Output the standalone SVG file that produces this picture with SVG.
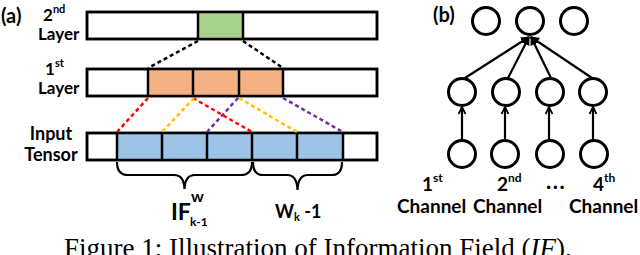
<svg xmlns="http://www.w3.org/2000/svg" width="640" height="255" viewBox="0 0 640 255">
<defs>
<style>
.lbl{font-family:Lato,"Liberation Sans",sans-serif;font-weight:bold;fill:#000}
.box{fill:#fff;stroke:#000;stroke-width:2.5}
.frame{fill:none;stroke:#000;stroke-width:2.5}
.sep{stroke:#000;stroke-width:2.5}
.g{fill:#a9d18e}
.o{fill:#f4b183}
.b{fill:#9dc3e6}
.dash{fill:none;stroke-width:2.5;stroke-dasharray:4 3}
.brace{fill:none;stroke:#000;stroke-width:2.2}
.node{fill:#fff;stroke:#000;stroke-width:3}
.edge{fill:none;stroke:#000;stroke-width:2.2}
</style>
<marker id="ah" viewBox="0 0 10 10" refX="9" refY="5" markerWidth="4" markerHeight="4" orient="auto">
<path d="M0,0 L10,5 L0,10 z" fill="#000"/>
</marker>
<marker id="chev" viewBox="0 0 10 10" refX="9" refY="5" markerWidth="4" markerHeight="4" orient="auto">
<path d="M1,1 L9,5 L1,9" fill="none" stroke="#000" stroke-width="2"/>
</marker>
</defs>

<g id="label-a">
<text class="lbl" x="1" y="23" font-size="20">(a)</text>
<text class="lbl" x="43" y="21" font-size="17">2<tspan font-size="11" dy="-8">nd</tspan></text>
<text class="lbl" x="38" y="40" font-size="17">Layer</text>
<text class="lbl" x="45" y="75" font-size="17">1<tspan font-size="11" dy="-8">st</tspan></text>
<text class="lbl" x="38" y="94" font-size="17">Layer</text>
<text class="lbl" x="51" y="140" font-size="18" text-anchor="middle">Input</text>
<text class="lbl" x="51" y="161" font-size="18" text-anchor="middle">Tensor</text>
</g>

<g id="layer2">
<rect class="box" x="87" y="12" width="290" height="27"/>
<rect class="g" x="198" y="12" width="45" height="27"/>
<line class="sep" x1="198" y1="12" x2="198" y2="39"/>
<line class="sep" x1="243" y1="12" x2="243" y2="39"/>
<rect class="frame" x="87" y="12" width="290" height="27"/>
</g>

<g id="layer1">
<rect class="box" x="87" y="69" width="290" height="27"/>
<rect class="o" x="148" y="69" width="135" height="27"/>
<line class="sep" x1="148" y1="69" x2="148" y2="96"/>
<line class="sep" x1="193" y1="69" x2="193" y2="96"/>
<line class="sep" x1="239" y1="69" x2="239" y2="96"/>
<line class="sep" x1="283" y1="69" x2="283" y2="96"/>
<rect class="frame" x="87" y="69" width="290" height="27"/>
</g>

<g id="input">
<rect class="box" x="87" y="133" width="290" height="27"/>
<rect class="b" x="117" y="133" width="226" height="27"/>
<line class="sep" x1="117" y1="133" x2="117" y2="160"/>
<line class="sep" x1="162" y1="133" x2="162" y2="160"/>
<line class="sep" x1="207" y1="133" x2="207" y2="160"/>
<line class="sep" x1="252" y1="133" x2="252" y2="160"/>
<line class="sep" x1="297" y1="133" x2="297" y2="160"/>
<line class="sep" x1="343" y1="133" x2="343" y2="160"/>
<rect class="frame" x="87" y="133" width="290" height="27"/>
</g>

<g id="connectors-a">
<line class="dash" stroke="#000" x1="198" y1="41" x2="148" y2="68"/>
<line class="dash" stroke="#000" x1="243" y1="41" x2="283" y2="68"/>
<line class="dash" stroke="#ff0000" x1="148" y1="98" x2="117" y2="132"/>
<line class="dash" stroke="#ff0000" x1="193" y1="98" x2="252" y2="132"/>
<line class="dash" stroke="#ffc000" x1="194" y1="98" x2="162" y2="132"/>
<line class="dash" stroke="#ffc000" x1="239" y1="98" x2="297" y2="132"/>
<line class="dash" stroke="#7030a0" x1="238" y1="98" x2="207" y2="132"/>
<line class="dash" stroke="#7030a0" x1="283" y1="98" x2="343" y2="132"/>
</g>

<g id="brace-if">
<path class="brace" d="M117,162 Q117,175 128,175 L174,175 Q184,175 184.5,189 Q185,175 195,175 L241,175 Q252,175 252,162"/>
<text class="lbl" x="171" y="220" font-size="23">IF</text>
<text class="lbl" x="191" y="202" font-size="16">w</text>
<text class="lbl" x="190" y="226" font-size="12">k-1</text>
</g>
<g id="brace-w">
<path class="brace" d="M253,162 Q253,175 263,175 L287,175 Q297,175 297.5,190 Q298,175 308,175 L332,175 Q342,175 342,162"/>
<text class="lbl" x="275" y="218" font-size="18">W<tspan font-size="11" dy="3">k</tspan><tspan dy="-3"> -1</tspan></text>
</g>

<g id="label-b"><text class="lbl" x="433" y="22" font-size="20">(b)</text></g>
<g id="t1"><circle class="node" cx="486" cy="21" r="13.5"/></g>
<g id="t2"><circle class="node" cx="530" cy="21" r="13.5"/></g>
<g id="t3"><circle class="node" cx="574" cy="21" r="13.5"/></g>
<g id="m1"><circle class="node" cx="462" cy="92" r="13.5"/></g>
<g id="m2"><circle class="node" cx="506" cy="92" r="13.5"/></g>
<g id="m3"><circle class="node" cx="550" cy="92" r="13.5"/></g>
<g id="m4"><circle class="node" cx="593" cy="92" r="13.5"/></g>
<g id="b1"><circle class="node" cx="462" cy="154" r="13.5"/></g>
<g id="b2"><circle class="node" cx="505" cy="154" r="13.5"/></g>
<g id="b3"><circle class="node" cx="550" cy="154" r="13.5"/></g>
<g id="b4"><circle class="node" cx="594" cy="154" r="13.5"/></g>

<g id="connectors-b">
<line class="edge" x1="465" y1="78" x2="529" y2="37" marker-end="url(#ah)"/>
<line class="edge" x1="508" y1="78" x2="529" y2="37" marker-end="url(#ah)"/>
<line class="edge" x1="551" y1="78" x2="531" y2="37" marker-end="url(#ah)"/>
<line class="edge" x1="592" y1="78" x2="531" y2="37" marker-end="url(#ah)"/>
<line class="edge" x1="462" y1="140" x2="462" y2="107" marker-end="url(#chev)"/>
<line class="edge" x1="505" y1="140" x2="505" y2="107" marker-end="url(#chev)"/>
<line class="edge" x1="549" y1="140" x2="549" y2="107" marker-end="url(#chev)"/>
<line class="edge" x1="593" y1="140" x2="593" y2="107" marker-end="url(#chev)"/>
</g>

<g id="labels-b">
<text class="lbl" x="422" y="191" font-size="19">1<tspan font-size="12" dy="-9">st</tspan></text>
<text class="lbl" x="497" y="191" font-size="19">2<tspan font-size="12" dy="-9">nd</tspan></text>
<text class="lbl" x="546" y="189" font-size="22" letter-spacing="1.5">...</text>
<text class="lbl" x="593" y="191" font-size="19">4<tspan font-size="12" dy="-9">th</tspan></text>
<text class="lbl" x="397" y="213" font-size="19">Channel</text>
<text class="lbl" x="473" y="213" font-size="19">Channel</text>
<text class="lbl" x="569" y="213" font-size="19">Channel</text>
</g>

<text x="64" y="257" font-family="'Liberation Serif',serif" font-size="27" fill="#000">Figure 1: Illustration of Information Field (<tspan font-style="italic">IF</tspan>).</text>
</svg>
